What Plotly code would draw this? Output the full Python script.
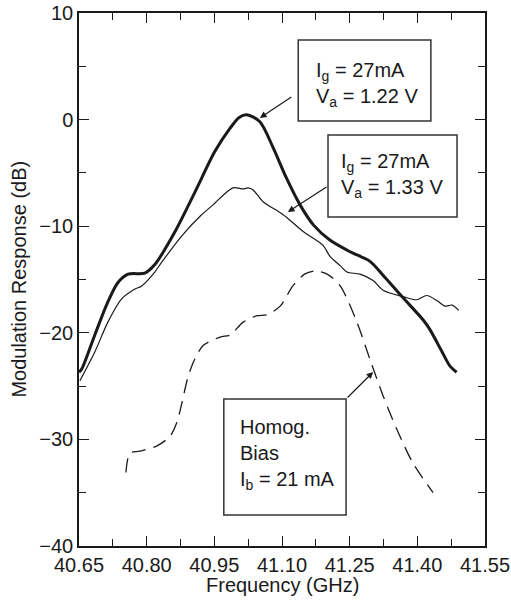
import plotly.graph_objects as go

# Frequency (GHz) and modulation response (dB)
bold_f = [40.650, 40.656, 40.685, 40.714, 40.736, 40.759, 40.796, 40.818, 40.863, 40.907,
          40.951, 40.985, 41.005, 41.022, 41.051, 41.081, 41.110, 41.140, 41.170, 41.206,
          41.251, 41.295, 41.324, 41.368, 41.413, 41.428, 41.455, 41.472, 41.487]
bold_v = [-23.7, -23.4, -20.2, -17.1, -15.3, -14.5, -14.4, -13.6, -10.5, -6.8,
          -3.0, -0.8, 0.2, 0.45, -0.2, -2.7, -5.5, -8.0, -9.9, -11.3,
          -12.4, -13.3, -14.6, -16.7, -18.8, -19.7, -21.8, -23.1, -23.7]

thin_f = [40.652, 40.685, 40.714, 40.745, 40.774, 40.789, 40.818, 40.833, 40.878, 40.920,
          40.947, 40.991, 41.014, 41.025, 41.036, 41.058, 41.102, 41.147, 41.191, 41.206,
          41.229, 41.244, 41.273, 41.302, 41.324, 41.368, 41.399, 41.421, 41.444, 41.461,
          41.477, 41.492]
thin_v = [-24.5, -21.8, -19.0, -16.8, -15.9, -15.6, -14.3, -13.4, -10.9, -9.0,
          -8.0, -6.4, -6.5, -6.4, -6.6, -7.7, -8.9, -10.5, -11.8, -12.8,
          -13.7, -14.3, -14.5, -15.1, -16.0, -16.6, -16.9, -16.5, -17.0, -17.5,
          -17.4, -17.9]

dash_f = [40.754, 40.763, 40.785, 40.823, 40.852, 40.867, 40.878, 40.890, 40.903, 40.925,
          40.963, 40.985, 41.014, 41.045, 41.067, 41.096, 41.124, 41.150, 41.175, 41.200,
          41.229, 41.266, 41.295, 41.324, 41.355, 41.390, 41.435]
dash_v = [-33.1, -31.3, -31.1, -30.6, -29.7, -28.4, -26.6, -24.4, -22.8, -21.2,
          -20.4, -20.2, -19.0, -18.4, -18.3, -17.5, -15.6, -14.5, -14.2, -14.5,
          -15.6, -19.0, -22.5, -25.9, -29.1, -32.2, -35.0]

x_ticks = [40.65, 40.80, 40.95, 41.10, 41.25, 41.40, 41.55]
x_labels = ["40.65", "40.80", "40.95", "41.10", "41.25", "41.40", "41.55"]
y_ticks = [10, 0, -10, -20, -30, -40]

x_title = "Frequency (GHz)"
y_title = "Modulation Response (dB)"
label1 = "I<sub>g</sub> = 27mA<br>V<sub>a</sub> = 1.22 V"
label2 = "I<sub>g</sub> = 27mA<br>V<sub>a</sub> = 1.33 V"
label3 = "Homog.<br>Bias<br>I<sub>b</sub> = 21 mA"

FONT = "Liberation Sans, Arial, sans-serif"
INK = "#1a1a1a"

fig = go.Figure()
fig.add_trace(go.Scatter(x=bold_f, y=bold_v, mode="lines",
                         line=dict(color=INK, width=3, shape="spline", smoothing=0.8)))
fig.add_trace(go.Scatter(x=thin_f, y=thin_v, mode="lines",
                         line=dict(color=INK, width=1.2, shape="spline", smoothing=0.8)))
fig.add_trace(go.Scatter(x=dash_f, y=dash_v, mode="lines",
                         line=dict(color=INK, width=1.3, dash="14px,8px", shape="spline", smoothing=0.8)))

box_line = dict(color="#333333", width=1.5)
fig.add_shape(type="rect", x0=41.136, x1=41.430, y0=-0.13, y1=7.47, line=box_line, layer="above")
fig.add_shape(type="rect", x0=41.202, x1=41.488, y0=-9.14, y1=-1.44, line=box_line, layer="above")
fig.add_shape(type="rect", x0=40.971, x1=41.242, y0=-37.09, y1=-26.21, line=box_line, layer="above")

tfont = dict(family=FONT, size=20, color=INK)
fig.add_annotation(x=41.170, y=3.3, text=label1, showarrow=False, xanchor="left", yanchor="middle",
                   align="left", font=tfont)
fig.add_annotation(x=41.226, y=-5.2, text=label2, showarrow=False, xanchor="left", yanchor="middle",
                   align="left", font=tfont)
fig.add_annotation(x=41.003, y=-31.4, text=label3, showarrow=False, xanchor="left", yanchor="middle",
                   align="left", font=tfont)

arrows = [((41.124, 2.21), (41.051, 0.15)),
          ((41.202, -6.23), (41.113, -8.67)),
          ((41.242, -26.21), (41.302, -23.68))]
for (tx, ty), (hx, hy) in arrows:
    fig.add_annotation(x=hx, y=hy, ax=tx, ay=ty, axref="x", ayref="y", xref="x", yref="y",
                       text="", showarrow=True, arrowhead=2, arrowsize=1.1, arrowwidth=1.2,
                       arrowcolor=INK, standoff=0, startstandoff=0)

# axis titles placed in paper coordinates
fig.add_annotation(x=0.5, y=-0.073, xref="paper", yref="paper", text=x_title, showarrow=False,
                   xanchor="center", yanchor="middle", font=dict(family=FONT, size=20, color=INK))
fig.add_annotation(x=-0.150, y=0.5, xref="paper", yref="paper", text=y_title, showarrow=False,
                   textangle=-90, xanchor="center", yanchor="middle",
                   font=dict(family=FONT, size=20, color=INK))

axis_common = dict(showline=True, linecolor=INK, linewidth=1.5, mirror="ticks",
                   ticks="inside", ticklen=10, tickwidth=1.2, tickcolor=INK,
                   showgrid=False, zeroline=False, automargin=False,
                   tickfont=dict(family=FONT, size=20, color=INK))

fig.update_xaxes(range=[40.65, 41.55], tickmode="array", tickvals=x_ticks, ticktext=x_labels,
                 minor=dict(ticks="inside", ticklen=7, tickwidth=1.2, tickcolor=INK, dtick=0.075,
                            tick0=40.65, showgrid=False),
                 **axis_common)
fig.update_yaxes(range=[-40, 10], tickmode="array", tickvals=y_ticks,
                 minor=dict(ticks="inside", ticklen=7, tickwidth=1.2, tickcolor=INK, dtick=5,
                            tick0=0, showgrid=False),
                 **axis_common)

fig.update_layout(width=511, height=600, showlegend=False,
                  margin=dict(l=79, r=26, t=13, b=54),
                  paper_bgcolor="white", plot_bgcolor="white")

fig.write_html("out.html", config={"displayModeBar": False},
               post_script="document.body.style.margin='0';document.body.style.padding='0';document.body.style.overflow='hidden';")
